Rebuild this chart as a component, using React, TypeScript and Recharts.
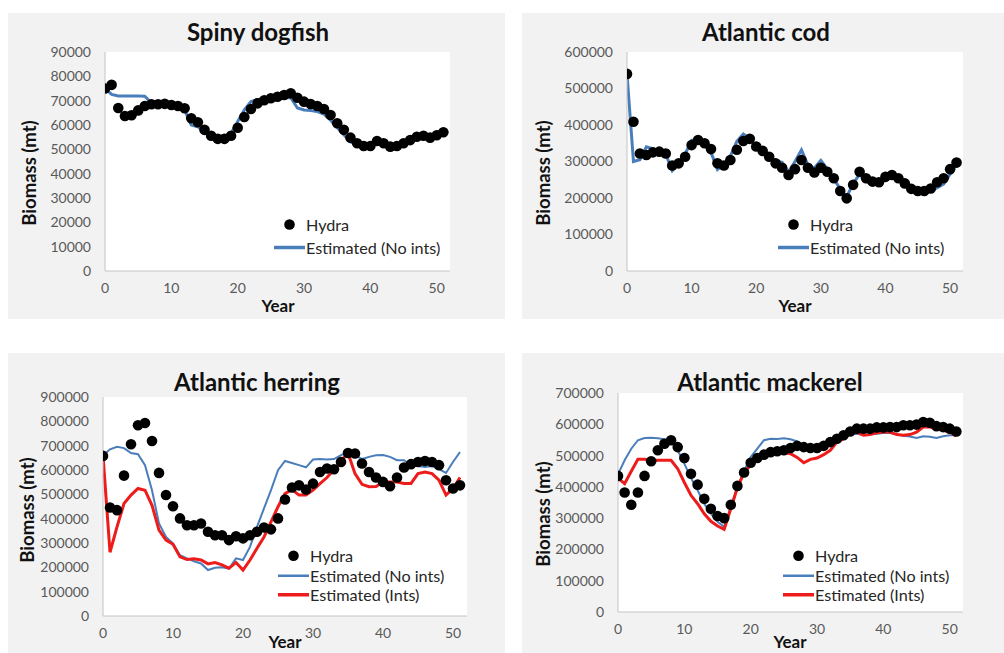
import { ComposedChart, Line, Scatter, XAxis, YAxis, CartesianGrid, Legend, Label } from "recharts";

// model years on the x axis
const years = [
  0, 1, 2, 3, 4, 5, 6, 7, 8, 9, 10, 11, 12, 13, 14, 15, 16, 17, 18, 19, 20, 21, 22, 23, 24, 25,
  26, 27, 28, 29, 30, 31, 32, 33, 34, 35, 36, 37, 38, 39, 40, 41, 42, 43, 44, 45, 46, 47, 48, 49, 50, 51,
];
const xTicks = [0, 10, 20, 30, 40, 50];

// Spiny dogfish
const dogfishHydra = [
  75000, 76500, 67000, 63700, 64000, 66000, 67800, 68500, 68500, 68700, 68200, 67800, 66900, 62800,
  61100, 58000, 55600, 54300, 54300, 55600, 58900, 63300, 66600, 68900, 70200, 71000, 71600, 72300,
  73000, 71200, 69600, 68600, 67800, 66600, 64100, 60700, 58000, 54800, 52500, 51400, 51400, 53400,
  52500, 51100, 51400, 52500, 53800, 55200, 55600, 54800, 55800, 57000,
];
const dogfishNoInts = [
  75000, 72600, 71900, 71900, 71900, 71900, 71800, 69000, 68000, 68000, 67500, 67000, 66200, 60000,
  59300, 57000, 55000, 54000, 54500, 56500, 61400, 66200, 69600, 70500, 70800, 71000, 71100, 71200,
  71200, 67000, 66200, 66000, 65500, 64500, 62000, 59000, 56000, 53000, 52000, 51500, 51500, 54000,
  52500, 51000, 51500, 53000, 54500, 56500, 55000, 55500, 57000, 58000,
];

// Atlantic cod
const codHydra = [
  540000, 409000, 322000, 318000, 325000, 327000, 322000, 289000, 295000, 313000, 345000, 359000,
  350000, 334000, 295000, 289000, 304000, 332000, 356000, 362000, 341000, 329000, 313000, 295000,
  283000, 263000, 279000, 304000, 283000, 270000, 283000, 272000, 254000, 219000, 199000, 236000,
  272000, 254000, 245000, 243000, 258000, 263000, 254000, 240000, 225000, 219000, 219000, 226000,
  243000, 254000, 279000, 297000,
];
const codNoInts = [
  540000, 300000, 305000, 340000, 335000, 330000, 320000, 275000, 295000, 320000, 358000, 358000,
  345000, 325000, 278000, 292000, 315000, 355000, 375000, 362000, 342000, 328000, 315000, 302000,
  298000, 272000, 300000, 332000, 290000, 282000, 303000, 280000, 252000, 225000, 203000, 240000,
  265000, 245000, 240000, 240000, 262000, 262000, 250000, 240000, 225000, 215000, 215000, 218000,
  228000, 238000, 265000, 292000,
];

// Atlantic herring
const herringHydra = [
  658000, 446000, 435000, 577000, 706000, 784000, 793000, 719000, 588000, 497000, 451000, 401000,
  373000, 373000, 380000, 346000, 332000, 332000, 312000, 328000, 319000, 332000, 346000, 364000,
  356000, 401000, 479000, 528000, 537000, 520000, 544000, 592000, 606000, 603000, 633000, 670000,
  668000, 627000, 592000, 569000, 551000, 533000, 569000, 610000, 624000, 633000, 637000, 633000,
  620000, 558000, 524000, 537000,
];
const herringNoInts = [
  660000, 685000, 695000, 690000, 670000, 665000, 620000, 517000, 380000, 325000, 298000, 250000,
  237000, 225000, 216000, 189000, 198000, 200000, 195000, 237000, 230000, 284000, 366000, 442000,
  517000, 599000, 637000, 629000, 620000, 611000, 643000, 645000, 643000, 645000, 661000, 674000,
  661000, 645000, 654000, 661000, 662000, 654000, 640000, 640000, 620000, 616000, 612000, 616000,
  604000, 588000, 633000, 674000,
];
const herringInts = [
  660000, 262000, 366000, 462000, 497000, 524000, 517000, 455000, 353000, 312000, 295000, 243000,
  232000, 235000, 230000, 214000, 220000, 210000, 196000, 220000, 189000, 230000, 278000, 325000,
  387000, 449000, 503000, 520000, 497000, 497000, 517000, 544000, 569000, 602000, 637000, 670000,
  585000, 541000, 531000, 532000, 551000, 551000, 551000, 545000, 545000, 585000, 592000, 585000,
  558000, 497000, 524000, 569000,
];

// Atlantic mackerel
const mackerelHydra = [
  435000, 382000, 343000, 382000, 435000, 482000, 517000, 538000, 549000, 527000, 492000, 442000,
  407000, 362000, 330000, 307000, 300000, 343000, 403000, 446000, 477000, 492000, 503000, 511000,
  514000, 517000, 524000, 531000, 527000, 524000, 524000, 531000, 543000, 554000, 565000, 577000,
  586000, 586000, 586000, 590000, 590000, 591000, 591000, 597000, 597000, 599000, 607000, 605000,
  594000, 591000, 586000, 577000,
];
const mackerelNoInts = [
  440000, 485000, 522000, 549000, 556000, 557000, 555000, 552000, 545000, 517000, 474000, 428000,
  389000, 346000, 314000, 288000, 272000, 336000, 400000, 450000, 495000, 522000, 549000, 554000,
  553000, 555000, 552000, 545000, 531000, 524000, 522000, 530000, 540000, 550000, 560000, 568000,
  570000, 566000, 568000, 570000, 572000, 572000, 568000, 563000, 561000, 556000, 562000, 560000,
  556000, 562000, 565000, 565000,
];
const mackerelInts = [
  428000, 410000, 450000, 488000, 488000, 485000, 485000, 485000, 485000, 458000, 414000, 373000,
  346000, 314000, 290000, 275000, 264000, 330000, 398000, 445000, 470000, 490000, 500000, 505000,
  510000, 510000, 506000, 494000, 477000, 488000, 492000, 503000, 517000, 543000, 554000, 570000,
  575000, 565000, 567000, 573000, 575000, 575000, 567000, 565000, 567000, 575000, 591000, 591000,
  586000, 581000, 575000, 563000,
];

const FONT = "Lato, 'Open Sans', sans-serif";
const BLUE = "#4a7ebb";
const RED = "#ee1b1b";

interface PanelSpec {
  title: string;
  hydra: number[];
  noInts: number[];
  ints?: number[];
  yMax: number;
  yTicks: number[];
  left: number;
  top: number;
  width: number;
  height: number;
  plot: { left: number; top: number; right: number; bottom: number };
  titleAt: [number, number];
  yLabelAt: [number, number];
  xLabelAt: [number, number];
  legendLeft: number;
  legendTop: number;
  legendRow: number;
  blueWidth: number;
}

function Panel({ spec }: { spec: PanelSpec }) {
  const rows = years.map((year, i) => ({
    year,
    hydra: spec.hydra[i],
    noInts: spec.noInts[i],
    ints: spec.ints ? spec.ints[i] : undefined,
  }));

  const items = [
    { label: "Hydra", kind: "dot", color: "#000", w: 0 },
    { label: "Estimated (No ints)", kind: "line", color: BLUE, w: spec.blueWidth + 0.5 },
  ];
  if (spec.ints) items.push({ label: "Estimated (Ints)", kind: "line", color: RED, w: 3.5 });

  const renderLegend = () => (
    <div style={{ fontFamily: FONT, fontSize: 16.2, color: "#262626" }}>
      {items.map((it) => (
        <div key={it.label} style={{ display: "flex", alignItems: "center", height: spec.legendRow }}>
          <svg width={31} height={spec.legendRow}>
            {it.kind === "dot" ? (
              <circle cx={15.5} cy={spec.legendRow / 2} r={5.3} fill="#000" />
            ) : (
              <line x1={0} x2={31} y1={spec.legendRow / 2} y2={spec.legendRow / 2} stroke={it.color} strokeWidth={it.w} />
            )}
          </svg>
          <span style={{ marginLeft: 1, whiteSpace: "nowrap" }}>{it.label}</span>
        </div>
      ))}
    </div>
  );

  const [ylx, yly] = spec.yLabelAt;
  const [xlx, xly] = spec.xLabelAt;

  return (
    <div
      style={{
        position: "absolute",
        left: spec.left,
        top: spec.top,
        width: spec.width,
        height: spec.height,
        background: "#f2f2f2",
        overflow: "hidden",
      }}
    >
      <ComposedChart
        width={spec.width}
        height={spec.height}
        data={rows}
        margin={{ top: spec.plot.top, right: spec.width - spec.plot.right, bottom: 0, left: 0 }}
      >
        <CartesianGrid horizontal={false} vertical={false} fill="#ffffff" />
        <XAxis
          dataKey="year"
          type="number"
          domain={[0, 52]}
          ticks={xTicks}
          height={spec.height - spec.plot.bottom}
          stroke="#c4c4c4"
          tickLine={false}
          tickSize={0}
          tickMargin={12}
          tick={{ fill: "#595959", fontSize: 14, fontFamily: FONT }}
          allowDataOverflow
        >
          <Label
            content={() => (
              <text x={xlx} y={xly} textAnchor="middle" dominantBaseline="central" fontFamily={FONT} fontWeight={700} fontSize={17} fill="#111">
                Year
              </text>
            )}
          />
        </XAxis>
        <YAxis
          type="number"
          domain={[0, spec.yMax]}
          ticks={spec.yTicks}
          width={spec.plot.left}
          stroke="#c4c4c4"
          tickLine={false}
          tickSize={0}
          tickMargin={14}
          tick={{ fill: "#595959", fontSize: 14, fontFamily: FONT }}
          allowDataOverflow
        >
          <Label
            content={() => (
              <text
                x={ylx}
                y={yly}
                transform={`rotate(-90 ${ylx} ${yly})`}
                textAnchor="middle"
                dominantBaseline="central"
                fontFamily={FONT}
                fontWeight={700}
                fontSize={18.5}
                fill="#111"
              >
                Biomass (mt)
              </text>
            )}
          />
        </YAxis>
        <Legend
          layout="vertical"
          align="center"
          verticalAlign="middle"
          wrapperStyle={{ left: spec.legendLeft, top: spec.legendTop, width: "auto", height: "auto" }}
          content={renderLegend}
        />
        <Line
          type="linear"
          dataKey="noInts"
          name="Estimated (No ints)"
          stroke={BLUE}
          strokeWidth={spec.blueWidth}
          dot={false}
          activeDot={false}
          isAnimationActive={false}
        />
        {spec.ints && (
          <Line
            type="linear"
            dataKey="ints"
            name="Estimated (Ints)"
            stroke={RED}
            strokeWidth={3}
            dot={false}
            activeDot={false}
            isAnimationActive={false}
          />
        )}
        <Scatter
          dataKey="hydra"
          name="Hydra"
          fill="#000"
          isAnimationActive={false}
          shape={(p: any) => <circle cx={p.cx} cy={p.cy} r={5.3} fill="#000" />}
        />
      </ComposedChart>
      <div
        style={{
          position: "absolute",
          left: spec.titleAt[0] - 200,
          top: spec.titleAt[1] - 15,
          width: 400,
          height: 30,
          lineHeight: "30px",
          textAlign: "center",
          fontFamily: FONT,
          fontWeight: 700,
          fontSize: 24,
          color: "#111",
        }}
      >
        {spec.title}
      </div>
    </div>
  );
}

const panels: PanelSpec[] = [
  {
    title: "Spiny dogfish",
    hydra: dogfishHydra,
    noInts: dogfishNoInts,
    yMax: 90000,
    yTicks: [0, 10000, 20000, 30000, 40000, 50000, 60000, 70000, 80000, 90000],
    left: 8,
    top: 13,
    width: 497,
    height: 306,
    plot: { left: 97, top: 39, right: 442, bottom: 258 },
    titleAt: [250, 19],
    yLabelAt: [21, 160],
    xLabelAt: [270, 292],
    legendLeft: 266,
    legendTop: 200,
    legendRow: 23,
    blueWidth: 3,
  },
  {
    title: "Atlantic cod",
    hydra: codHydra,
    noInts: codNoInts,
    yMax: 600000,
    yTicks: [0, 100000, 200000, 300000, 400000, 500000, 600000],
    left: 522,
    top: 13,
    width: 482,
    height: 306,
    plot: { left: 105, top: 39, right: 441, bottom: 258 },
    titleAt: [244, 19],
    yLabelAt: [21, 160],
    xLabelAt: [273, 292],
    legendLeft: 256,
    legendTop: 200,
    legendRow: 23,
    blueWidth: 3,
  },
  {
    title: "Atlantic herring",
    hydra: herringHydra,
    noInts: herringNoInts,
    ints: herringInts,
    yMax: 900000,
    yTicks: [0, 100000, 200000, 300000, 400000, 500000, 600000, 700000, 800000, 900000],
    left: 8,
    top: 353,
    width: 497,
    height: 300,
    plot: { left: 95, top: 44, right: 459, bottom: 263 },
    titleAt: [249, 29],
    yLabelAt: [19, 157],
    xLabelAt: [277, 288],
    legendLeft: 270,
    legendTop: 193,
    legendRow: 19.5,
    blueWidth: 2,
  },
  {
    title: "Atlantic mackerel",
    hydra: mackerelHydra,
    noInts: mackerelNoInts,
    ints: mackerelInts,
    yMax: 700000,
    yTicks: [0, 100000, 200000, 300000, 400000, 500000, 600000, 700000],
    left: 522,
    top: 353,
    width: 482,
    height: 300,
    plot: { left: 96, top: 40, right: 441, bottom: 259 },
    titleAt: [248, 29],
    yLabelAt: [21, 161],
    xLabelAt: [268, 288],
    legendLeft: 261,
    legendTop: 193,
    legendRow: 19.5,
    blueWidth: 2,
  },
];

export default function App() {
  return (
    <div
      style={{
        position: "absolute",
        left: 0,
        top: 0,
        width: 1004,
        height: 653,
        background: "#ffffff",
        overflow: "hidden",
      }}
    >
      {panels.map((p) => (
        <Panel key={p.title} spec={p} />
      ))}
    </div>
  );
}
